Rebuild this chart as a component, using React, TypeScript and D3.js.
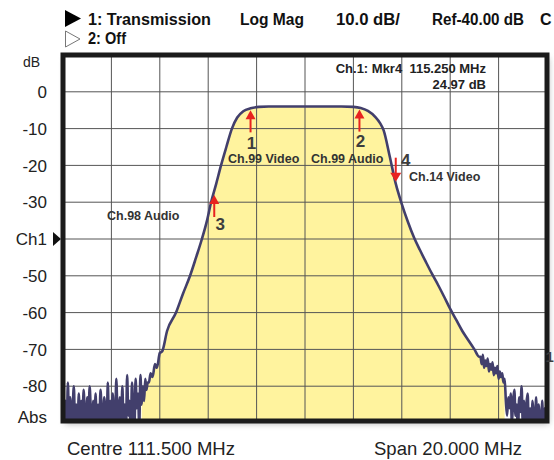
import * as d3 from "d3";

// sweep
const FREQ_START = 101.5;
const FREQ_STOP = 121.5;
const NOISE_STEP = 0.05;

// left noise floor, starts at FREQ_START
const leftNoiseDb = [
  -77, -92, -84, -95, -79, -90, -83, -94, -86, -80, -93, -85, -96, -82, -90, -84, -94, -81,
  -88, -95, -83, -91, -80, -87, -94, -84, -90, -82, -96, -85, -91, -81, -88, -93, -83, -87,
  -95, -79, -90, -84, -93, -82, -88, -94, -78, -87, -92, -83, -95, -80, -89, -85, -93, -77,
  -88, -84, -94, -79, -87, -92, -78, -86, -82, -91, -77, -85, -80, -84, -78, -81, -79,
];

// filter response
const passFreq = [
  105.05, 105.12, 105.2, 105.3, 105.38, 105.5, 105.6, 105.8, 106.17, 106.45, 106.75, 107.0,
  107.24, 107.45, 107.62, 107.83, 108.03, 108.25, 108.48, 108.7, 108.95, 109.25, 109.6, 110.0,
  111.0, 112.0, 113.0, 113.5, 113.8, 114.1, 114.4, 114.6, 114.75, 115.0, 115.25, 115.5, 115.75,
  116.0, 116.25, 116.5, 116.75, 117.0, 117.25, 117.5, 117.75, 118.0, 118.25, 118.5, 118.7,
];
const passDb = [
  -79, -76.5, -77.5, -74, -75, -71, -70.5, -65, -60, -55, -50, -45, -40, -35, -30, -25, -20,
  -15, -10, -7, -5.3, -4.5, -4.1, -4.0, -4.0, -4.0, -4.0, -4.1, -4.4, -5.2, -6.8, -8.5, -10.5,
  -17.5, -24.97, -30.5, -35.3, -39.5, -43, -46.3, -49.5, -52.5, -55.7, -59, -62, -65, -67.5,
  -70, -72,
];

// noisy skirt, starts at 118.75
const SKIRT_START = 118.75;
const skirtDb = [
  -72, -74, -71.5, -75, -73, -74.5, -72.5, -76, -74, -75.5, -73.5, -77, -75, -76.5, -74.5, -78,
  -76, -77.5, -76.5, -79, -78,
];

// right noise floor, starts at 119.8
const RIGHT_START = 119.8;
const rightNoiseDb = [
  -84, -88, -83, -86, -82, -90, -84, -81, -88, -85, -93, -83, -87, -80, -90, -84, -95, -85, -82,
  -91, -86, -96, -84, -88, -93, -83, -95, -85, -89, -97, -84, -92, -86, -95, -85,
];

const FILL_FROM = 104.75;
const FILL_TO = 119.75;

const yTicks = [0, -10, -20, -30, -40, -50, -60, -70, -80];
const yTickLabels = ["0", "-10", "-20", "-30", "Ch1", "-50", "-60", "-70", "-80"];
const xGrid = [103.5, 105.5, 107.5, 109.5, 111.5, 113.5, 115.5, 117.5, 119.5];

const markerIds = ["1", "2", "3", "4"];
const markerFreq = [109.25, 113.75, 107.75, 115.25];
const markerDb = [-4.5, -4.3, -27.5, -24.97];
const markerUp = [true, true, true, false];

const channelLabels = ["Ch.99 Video", "Ch.99 Audio", "Ch.98 Audio", "Ch.14 Video"];

type Pt = { f: number; db: number };

const trace: Pt[] = [
  ...leftNoiseDb.map((db, i) => ({ f: FREQ_START + i * NOISE_STEP, db })),
  ...passFreq.map((f, i) => ({ f, db: passDb[i] })),
  ...skirtDb.map((db, i) => ({ f: SKIRT_START + i * NOISE_STEP, db })),
  ...rightNoiseDb.map((db, i) => ({ f: RIGHT_START + i * NOISE_STEP, db })),
];

const W = 554;
const H = 460;
const left = 63;
const right = 547;
const top = 55;
const bottom = 421;

export default function App() {
  const x = d3.scaleLinear().domain([FREQ_START, FREQ_STOP]).range([left, right]);
  const y = d3.scaleLinear().domain([-90, 10]).range([423, top]);

  const line = d3
    .line<Pt>()
    .x((d) => x(d.f))
    .y((d) => y(d.db))
    .curve(d3.curveMonotoneX);

  const area = d3
    .area<Pt>()
    .x((d) => x(d.f))
    .y0(bottom)
    .y1((d) => y(d.db))
    .curve(d3.curveMonotoneX);

  const fillPts = trace.filter((d) => d.f >= FILL_FROM && d.f <= FILL_TO);
  const font = "'Liberation Sans', Arial, sans-serif";

  return (
    <svg
      width={W}
      height={H}
      style={{ position: "absolute", left: 0, top: 0, background: "#fff" }}
      fontFamily={font}
    >
      <defs>
        <clipPath id="plot">
          <rect x={left} y={top} width={right - left} height={bottom - top} />
        </clipPath>
        <filter id="shadow" x="-10%" y="-10%" width="120%" height="120%">
          <feGaussianBlur stdDeviation="3" />
        </filter>
      </defs>

      {/* header */}
      <path d="M65,10 L81,18.5 L65,27 Z" fill="#000" />
      <path d="M65.5,31 L80,39 L65.5,47 Z" fill="none" stroke="#777" strokeWidth={1} />
      <g fontWeight="bold" fontSize={16} fill="#111">
        <text x={88} y={25} textLength={123} lengthAdjust="spacingAndGlyphs">1: Transmission</text>
        <text x={240} y={25} textLength={64} lengthAdjust="spacingAndGlyphs">Log Mag</text>
        <text x={336} y={25} textLength={64} lengthAdjust="spacingAndGlyphs">10.0 dB/</text>
        <text x={432} y={25} textLength={92} lengthAdjust="spacingAndGlyphs">Ref-40.00 dB</text>
        <text x={540} y={25}>C</text>
        <text x={88} y={44} textLength={38} lengthAdjust="spacingAndGlyphs">2: Off</text>
      </g>

      {/* frame shadow */}
      <rect
        x={left + 2}
        y={top + 3}
        width={right - left}
        height={bottom - top}
        fill="#888"
        opacity={0.6}
        filter="url(#shadow)"
      />
      <rect x={left} y={top} width={right - left} height={bottom - top} fill="#fff" />

      <g clipPath="url(#plot)">
        <path d={area(fillPts) ?? ""} fill="#fff39e" />
        {xGrid.map((f) => (
          <line key={f} x1={x(f)} x2={x(f)} y1={top} y2={bottom} stroke="#555" strokeWidth={1} />
        ))}
        {yTicks.map((v) => (
          <line key={v} x1={left} x2={right} y1={y(v)} y2={y(v)} stroke="#555" strokeWidth={1} />
        ))}
        <path d={line(trace) ?? ""} fill="none" stroke="#423f6c" strokeWidth={2.6} strokeLinejoin="round" />
      </g>

      <rect
        x={left}
        y={top}
        width={right - left}
        height={bottom - top}
        fill="none"
        stroke="#1b1b1b"
        strokeWidth={5}
      />

      {/* y axis */}
      <g fontSize={17} fill="#222" textAnchor="end">
        <text x={40} y={67} fontSize={14}>dB</text>
        {yTicks.map((v, i) => (
          <text key={v} x={47} y={y(v)} dy="0.36em">
            {yTickLabels[i]}
          </text>
        ))}
        <text x={47} y={417} dy="0.36em">Abs</text>
      </g>
      <path d={`M53,${y(-40) - 7} L61,${y(-40)} L53,${y(-40) + 7} Z`} fill="#111" />

      {/* marker readout */}
      <g fontWeight="bold" fontSize={13} fill="#222" textAnchor="end">
        <text x={486} y={73} xmlSpace="preserve">{"Ch.1: Mkr4  115.250 MHz"}</text>
        <text x={486} y={89}>{Math.abs(markerDb[3]).toFixed(2)} dB</text>
      </g>

      {/* markers */}
      {markerIds.map((id, i) => {
        const mx = x(markerFreq[i]);
        const my = y(markerDb[i]);
        if (markerUp[i]) {
          const tip = my + 2;
          return (
            <g key={id}>
              <line x1={mx} x2={mx} y1={tip + 6} y2={tip + 22} stroke="#e8231f" strokeWidth={2} />
              <path d={`M${mx},${tip} L${mx - 5},${tip + 9} L${mx + 5},${tip + 9} Z`} fill="#e8231f" />
            </g>
          );
        }
        const tip = my - 2;
        return (
          <g key={id}>
            <line x1={mx} x2={mx} y1={tip - 24} y2={tip - 6} stroke="#e8231f" strokeWidth={2} />
            <path d={`M${mx},${tip} L${mx - 5.5},${tip - 9} L${mx + 5.5},${tip - 9} Z`} fill="#e8231f" />
          </g>
        );
      })}
      <g fontWeight="bold" fontSize={17} fill="#3d3d3d">
        <text x={x(markerFreq[0]) + 1} y={149} textAnchor="middle">1</text>
        <text x={x(markerFreq[1]) + 1} y={147} textAnchor="middle">2</text>
        <text x={x(markerFreq[2]) + 6} y={230} textAnchor="middle">3</text>
        <text x={x(markerFreq[3]) + 10} y={166} textAnchor="middle">4</text>
      </g>
      <text x={545.5} y={362} fontSize={15} fontWeight="bold" fill="#3d3d3d">1</text>
      <g fontWeight="bold" fontSize={12.5} fill="#333">
        <text x={228} y={163}>{channelLabels[0]}</text>
        <text x={311} y={163}>{channelLabels[1]}</text>
        <text x={107} y={220}>{channelLabels[2]}</text>
        <text x={409} y={181}>{channelLabels[3]}</text>
      </g>

      {/* footer */}
      <g fontSize={18.5} fill="#222">
        <text x={67} y={455}>Centre 111.500 MHz</text>
        <text x={374} y={455}>Span 20.000 MHz</text>
      </g>
    </svg>
  );
}
